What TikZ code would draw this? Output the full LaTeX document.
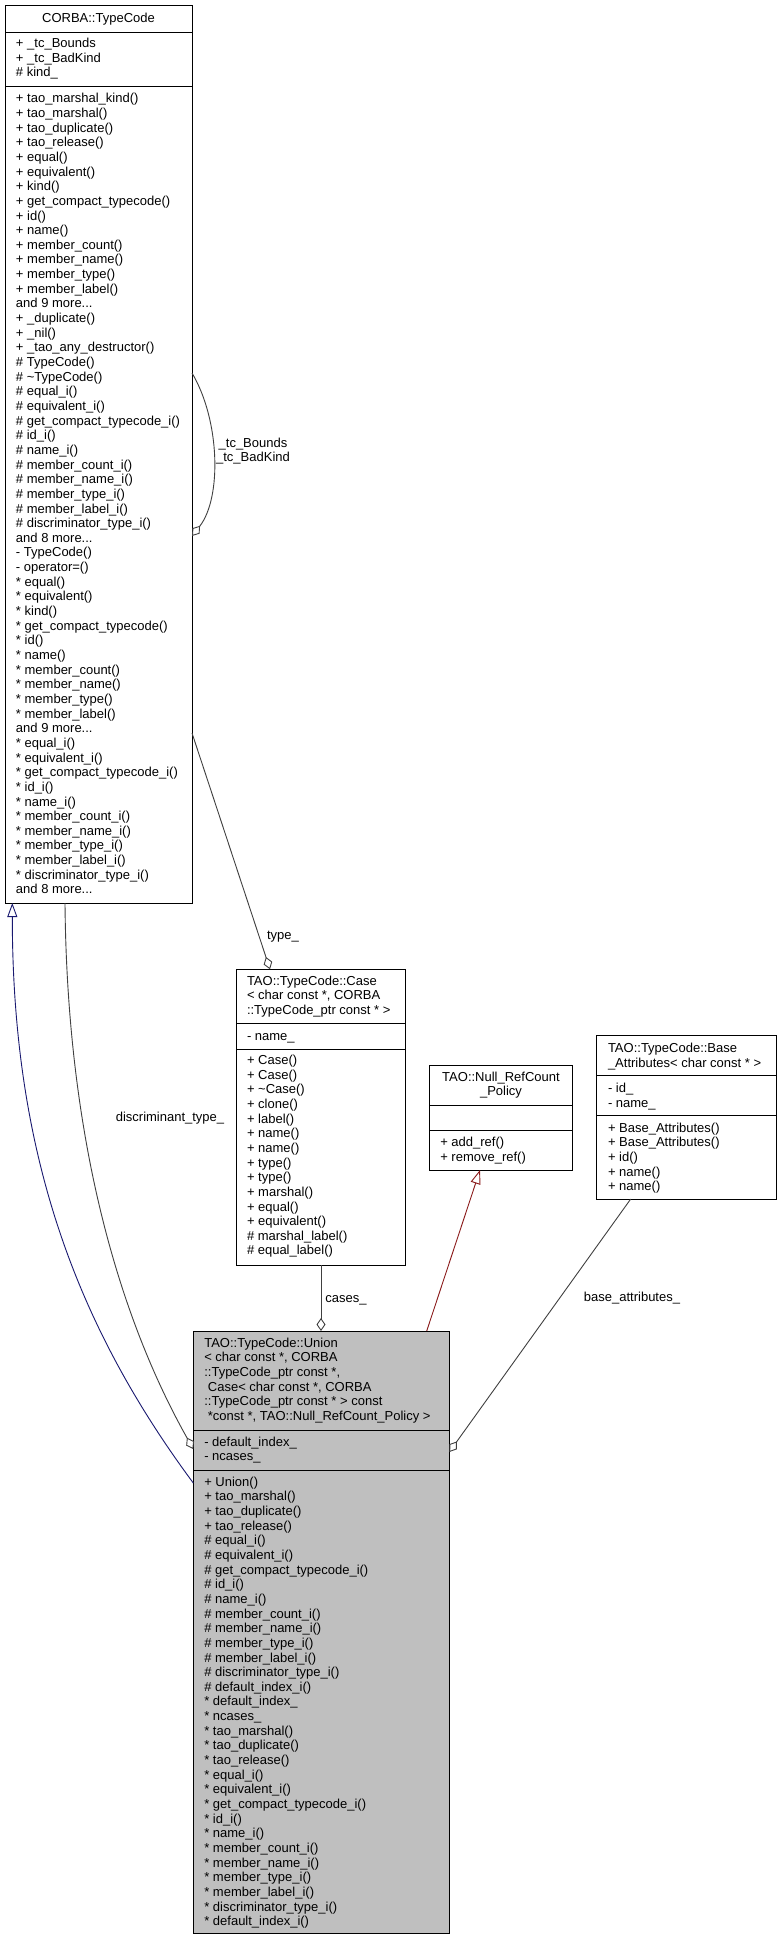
\documentclass[tikz,border=0pt]{standalone}
\usepackage{fontspec}
\setmainfont{Liberation Sans}
\usetikzlibrary{arrows.meta,calc}
\definecolor{grey75}{HTML}{BFBFBF}
\definecolor{edgegray}{HTML}{404040}
\definecolor{midblue}{HTML}{191970}
\definecolor{firebrick}{HTML}{8B1A1A}
\newcommand\tdots{...}
\newcommand\members[4]{\foreach \t [count=\i] in {#4} {\node[txt] (#1\i) at (#2,{#3+(\i-1)*14.65}) {\t};}}
\begin{document}
\begin{tikzpicture}[x=1pt,y=-1pt,
  cls/.style={draw=black, line width=1pt, inner sep=0pt, outer sep=0pt, anchor=north west},
  sepline/.style={draw=black, line width=1pt},
  txt/.style={inner sep=0pt, outer sep=0pt, font=\fontsize{13}{14.65}\selectfont, anchor=base west},
  elabel/.style={txt, anchor=base},
  usage/.style={draw=edgegray, line width=0.9pt, -{Diamond[open,length=13pt,width=9pt]}},
  pubinh/.style={draw=midblue, line width=0.9pt, -{Triangle[open,length=14pt,width=10pt]}},
  privinh/.style={draw=firebrick, line width=0.9pt, -{Triangle[open,length=14pt,width=10pt]}}]
\useasboundingbox (0,0) rectangle (781,1941);
\fill[white] (0,0) rectangle (781,1941);

% ---------- CORBA::TypeCode ----------
\node[cls, minimum width=187pt, minimum height=898pt] (corba) at (5,5) {};
\draw[sepline] (5,32) -- (192,32);
\draw[sepline] (5,86) -- (192,86);
\node[elabel] (corbahead) at (98.5,22.5) {CORBA::TypeCode};
\members{corbaat}{16}{47.5}{{+ \_tc\_Bounds},{+ \_tc\_BadKind},{\# kind\_}}
\members{corbaop}{16}{102.8}{{+ tao\_marshal\_kind()},{+ tao\_marshal()},{+ tao\_duplicate()},{+ tao\_release()},{+ equal()},{+ equivalent()},{+ kind()},{+ get\_compact\_typecode()},{+ id()},{+ name()},{+ member\_count()},{+ member\_name()},{+ member\_type()},{+ member\_label()},{and 9 more\tdots},{+ \_duplicate()},{+ \_nil()},{+ \_tao\_any\_destructor()},{\# TypeCode()},{\# \textasciitilde TypeCode()},{\# equal\_i()},{\# equivalent\_i()},{\# get\_compact\_typecode\_i()},{\# id\_i()},{\# name\_i()},{\# member\_count\_i()},{\# member\_name\_i()},{\# member\_type\_i()},{\# member\_label\_i()},{\# discriminator\_type\_i()},{and 8 more\tdots},{- TypeCode()},{- operator=()},{* equal()},{* equivalent()},{* kind()},{* get\_compact\_typecode()},{* id()},{* name()},{* member\_count()},{* member\_name()},{* member\_type()},{* member\_label()},{and 9 more\tdots},{* equal\_i()},{* equivalent\_i()},{* get\_compact\_typecode\_i()},{* id\_i()},{* name\_i()},{* member\_count\_i()},{* member\_name\_i()},{* member\_type\_i()},{* member\_label\_i()},{* discriminator\_type\_i()},{and 8 more\tdots}}

% ---------- Case ----------
\node[cls, minimum width=169pt, minimum height=295.7pt] (case) at (236.7,969.3) {};
\draw[sepline] (236.7,1023.3) -- (405.7,1023.3);
\draw[sepline] (236.7,1049.3) -- (405.7,1049.3);
\members{casehd}{247}{985.2}{{TAO::TypeCode::Case},{< char const *, CORBA},{::TypeCode\_ptr const * >}}
\members{caseat}{247}{1040.5}{{- name\_}}
\members{caseop}{247}{1064.5}{{+ Case()},{+ Case()},{+ \textasciitilde Case()},{+ clone()},{+ label()},{+ name()},{+ name()},{+ type()},{+ type()},{+ marshal()},{+ equal()},{+ equivalent()},{\# marshal\_label()},{\# equal\_label()}}

% ---------- Null_RefCount_Policy ----------
\node[cls, minimum width=143.4pt, minimum height=105pt] (null) at (429.3,1065) {};
\draw[sepline] (429.3,1105) -- (572.7,1105);
\draw[sepline] (429.3,1130) -- (572.7,1130);
\node[elabel] (nullhd1) at (501,1081.2) {TAO::Null\_RefCount};
\node[elabel] (nullhd2) at (501,1095.2) {\_Policy};
\members{nullop}{440.3}{1146.8}{{+ add\_ref()},{+ remove\_ref()}}

% ---------- Base_Attributes ----------
\node[cls, minimum width=179.3pt, minimum height=164pt] (base) at (596.7,1035) {};
\draw[sepline] (596.7,1075) -- (776,1075);
\draw[sepline] (596.7,1115) -- (776,1115);
\members{basehd}{608}{1052.8}{{TAO::TypeCode::Base},{\_Attributes< char const * >}}
\members{baseat}{608}{1092.8}{{- id\_},{- name\_}}
\members{baseop}{608}{1132.2}{{+ Base\_Attributes()},{+ Base\_Attributes()},{+ id()},{+ name()},{+ name()}}

% ---------- Union ----------
\node[cls, fill=grey75, minimum width=256pt, minimum height=602.3pt] (union) at (193.3,1331) {};
\draw[sepline] (193.3,1430) -- (449.3,1430);
\draw[sepline] (193.3,1470) -- (449.3,1470);
\members{unionhd}{204.3}{1347.2}{{TAO::TypeCode::Union},{< char const *, CORBA},{::TypeCode\_ptr const *,},{\ Case< char const *, CORBA},{::TypeCode\_ptr const * > const},{\ *const *, TAO::Null\_RefCount\_Policy >}}
\members{unionat}{204.3}{1446.2}{{- default\_index\_},{- ncases\_}}
\members{unionop}{204.3}{1486.2}{{+ Union()},{+ tao\_marshal()},{+ tao\_duplicate()},{+ tao\_release()},{\# equal\_i()},{\# equivalent\_i()},{\# get\_compact\_typecode\_i()},{\# id\_i()},{\# name\_i()},{\# member\_count\_i()},{\# member\_name\_i()},{\# member\_type\_i()},{\# member\_label\_i()},{\# discriminator\_type\_i()},{\# default\_index\_i()},{* default\_index\_},{* ncases\_},{* tao\_marshal()},{* tao\_duplicate()},{* tao\_release()},{* equal\_i()},{* equivalent\_i()},{* get\_compact\_typecode\_i()},{* id\_i()},{* name\_i()},{* member\_count\_i()},{* member\_name\_i()},{* member\_type\_i()},{* member\_label\_i()},{* discriminator\_type\_i()},{* default\_index\_i()}}

% ---------- connectors ----------
\draw[usage] ($(corba.north east)+(0,368)$) .. controls (220,420) and (222,498) .. ($(corba.north east)+(0,531)$);
\node[txt, anchor=center, align=center] (lbltc) at (253,451) {\_tc\_Bounds\\\_tc\_BadKind};

\draw[usage] ($(corba.north east)+(0,728)$) -- ($(case.north west)+(33.3,0)$);
\node[elabel] (lbltype) at (283,939.5) {type\_};

\draw[pubinh] ($(union.north west)+(0,152)$) .. controls (80,1330) and (12.3,1160) .. ($(corba.south west)+(7.3,0)$);

\draw[usage] ($(corba.south west)+(60,0)$) .. controls (67,1130) and (115,1310) .. ($(union.north west)+(0,118)$);
\node[elabel] (lbldisc) at (170,1121.5) {discriminant\_type\_};

\draw[usage] ($(case.south west)+(84.3,0)$) -- ($(union.north west)+(127.7,0)$);
\node[elabel] (lblcases) at (346,1302) {cases\_};

\draw[privinh] ($(union.north west)+(233.4,0)$) -- ($(null.south west)+(50.7,0)$);

\draw[usage] ($(base.south west)+(34,0)$) -- ($(union.north east)+(0,121)$);
\node[elabel] (lblbase) at (632,1301.5) {base\_attributes\_};
\end{tikzpicture}
\end{document}
